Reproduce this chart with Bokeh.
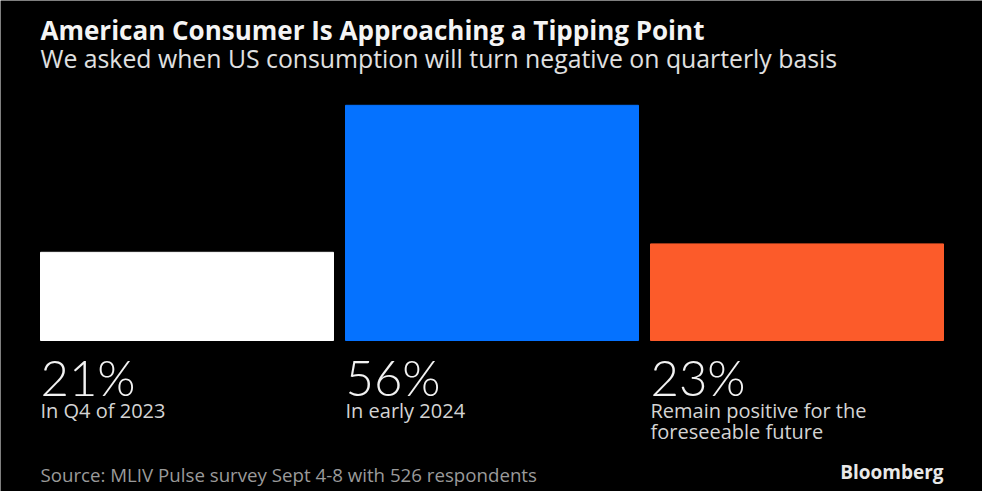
from bokeh.plotting import figure
from bokeh.models import ColumnDataSource, Range1d, Label
from bokeh.core.properties import value
from bokeh.embed import file_html
from bokeh.resources import INLINE

# ---- data ----
categories = ["In Q4 of 2023", "In early 2024", "Remain positive for the\nforeseeable future"]
shares = [21, 56, 23]
bar_colors = ["#ffffff", "#0572ff", "#fc5b2a"]

title_text = "American Consumer Is Approaching a Tipping Point"
subtitle_text = "We asked when US consumption will turn negative on quarterly basis"
source_text = "Source: MLIV Pulse survey Sept 4-8 with 526 respondents"
brand_text = "Bloomberg"

FONT = "Open Sans"
W, H = 982, 491
PX_PER_UNIT_X = 305.0   # pixels between bar centres
PX_PER_PCT = 4.2        # pixels per percentage point
X0 = 186.5              # pixel of first bar centre
BASE = 340.0            # pixel (from top) of bar baseline
BAR_W = 293 / PX_PER_UNIT_X
OFF = 0.32              # baseline compensation (fraction of font size)
CAT_SIZE = 20
CAT_LINE = 21

def px(ximg):
    return (ximg - X0) / PX_PER_UNIT_X

def py(yimg, size=0):
    return (BASE - (yimg - OFF * size)) / PX_PER_PCT

xs = list(range(len(categories)))
src = ColumnDataSource(dict(
    x=xs,
    top=shares,
    color=bar_colors,
    left=[x - BAR_W / 2 for x in xs],
    pct=[f"{s}%" for s in shares],
))

# category labels split into lines
lx, ly, lt = [], [], []
for i, cat in enumerate(categories):
    for j, line in enumerate(cat.split("\n")):
        lx.append(i - BAR_W / 2)
        ly.append(py(416 + j * CAT_LINE, CAT_SIZE))
        lt.append(line)
cat_src = ColumnDataSource(dict(x=lx, y=ly, text=lt))

p = figure(width=W, height=H, output_backend="svg", toolbar_location=None,
           x_range=Range1d(-X0 / PX_PER_UNIT_X, (W - X0) / PX_PER_UNIT_X),
           y_range=Range1d(-(H - BASE) / PX_PER_PCT, BASE / PX_PER_PCT),
           min_border=0, background_fill_color="black", border_fill_color="black",
           outline_line_color=None)
p.axis.visible = False
p.grid.visible = False

p.vbar(x="x", top="top", bottom=0, width=BAR_W, color="color", source=src)

p.text(x="left", y=py(392, 50), text="pct", source=src, text_color="#f2f2f2",
       text_font=value("Lato Light"), text_font_size="49px", text_baseline="alphabetic")
p.text(x="x", y="y", text="text", source=cat_src, text_color="#d4d4d4",
       text_font=value(FONT), text_font_size=f"{CAT_SIZE}px", text_baseline="alphabetic")

p.add_layout(Label(x=px(40), y=py(38, 26), text=title_text, text_color="#f4f4f4",
                   text_font=FONT, text_font_size="26px", text_font_style="bold",
                   text_baseline="alphabetic"))
p.add_layout(Label(x=px(40), y=py(65, 25), text=subtitle_text, text_color="#e0e0e0",
                   text_font=FONT, text_font_size="24.8px",
                   text_baseline="alphabetic"))
p.add_layout(Label(x=px(40), y=py(480, 18.7), text=source_text, text_color="#9a9a9a",
                   text_font=FONT, text_font_size="18.7px",
                   text_baseline="alphabetic"))
p.add_layout(Label(x=px(943), y=py(478, 19), text=brand_text, text_color="#e8e8e8",
                   text_font=FONT, text_font_size="19px", text_font_style="bold",
                   text_align="right", text_baseline="alphabetic"))

open("out.html", "w").write(file_html(p, INLINE))
